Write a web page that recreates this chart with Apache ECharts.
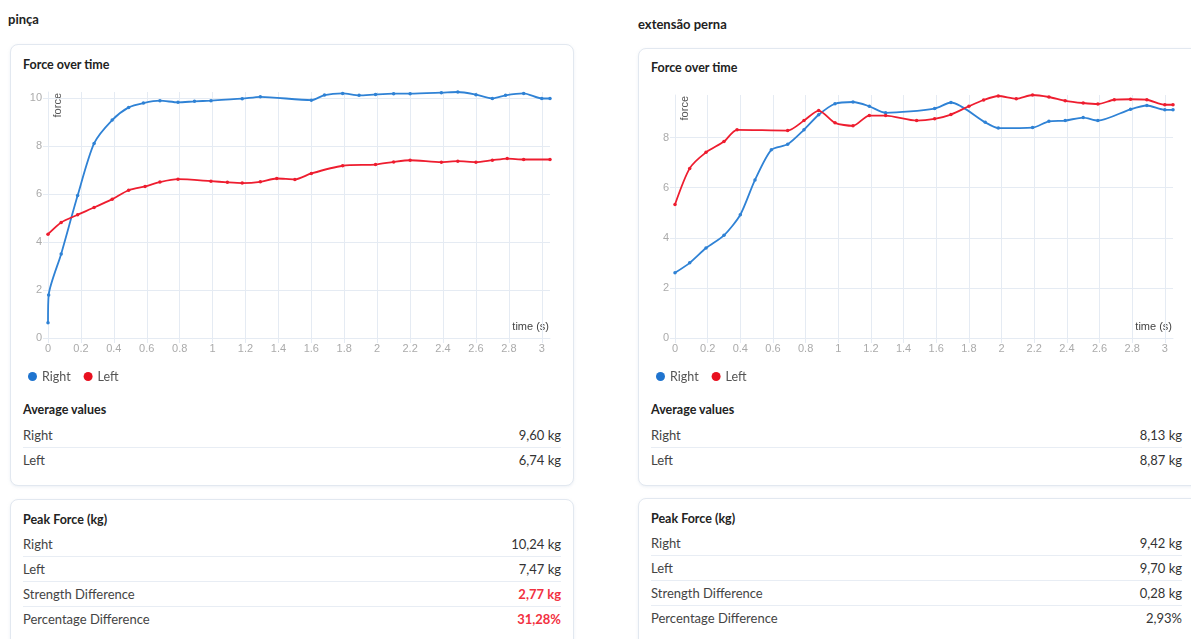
<!DOCTYPE html>
<html>
<head>
<meta charset="utf-8">
<script src="https://cdn.jsdelivr.net/npm/echarts@6/dist/echarts.min.js"></script>
<style>
  html, body { margin: 0; padding: 0; background: #fff; }
  body { width: 1191px; height: 639px; overflow: hidden; position: relative; font-family: 'Lato', 'Noto Sans', sans-serif; color: #333; }
  .ttl { position: absolute; font-size: 13px; font-weight: 700; color: #222; line-height: 16px; }
  .card { position: absolute; border: 1px solid #e2e8f0; border-radius: 8px; box-shadow: 0 1px 3px rgba(180,195,215,0.25); background: #fff; box-sizing: border-box; }
  .h { position: absolute; font-size: 12.5px; font-weight: 700; color: #222; line-height: 16px; }
  .rows { position: absolute; }
  .row { height: 25px; line-height: 25px; display: flex; justify-content: space-between; font-size: 13px; color: #444; border-bottom: 1px solid #e8edf4; box-sizing: border-box; }
  .row:last-child { border-bottom: none; }
  .row .v { color: #333; }
  .row .v.red { color: #f23040; font-weight: 700; }
  .chart { position: absolute; }
</style>
</head>
<body>

<div class="ttl" style="left:8px;top:11px">pinça</div>
<div class="card" style="left:10px;top:44px;width:564px;height:442px"></div>
<div class="h" style="left:23px;top:57px">Force over time</div>
<div id="chartPinca" class="chart" style="left:0;top:80px;width:600px;height:310px"></div>
<div class="h" style="left:23px;top:402px">Average values</div>
<div class="rows" style="left:23px;top:423px;width:538px" id="avgPinca"></div>
<div class="card" style="left:10px;top:499px;width:564px;height:160px"></div>
<div class="h" style="left:23px;top:512px">Peak Force (kg)</div>
<div class="rows" style="left:23px;top:532px;width:538px" id="peakPinca"></div>

<div class="ttl" style="left:638px;top:16px">extensão perna</div>
<div class="card" style="left:638px;top:48px;width:580px;height:438px"></div>
<div class="h" style="left:651px;top:60px">Force over time</div>
<div id="chartPerna" class="chart" style="left:620px;top:80px;width:571px;height:310px"></div>
<div class="h" style="left:651px;top:402px">Average values</div>
<div class="rows" style="left:651px;top:423px;width:531px" id="avgPerna"></div>
<div class="card" style="left:638px;top:498px;width:580px;height:160px"></div>
<div class="h" style="left:651px;top:511px">Peak Force (kg)</div>
<div class="rows" style="left:651px;top:531px;width:531px" id="peakPerna"></div>

<script>
// ---- pinça: force (kg) sampled over time (s) ----
const pincaRightTime  = [0.00, 0.004, 0.08, 0.18, 0.28, 0.39, 0.49, 0.58, 0.68, 0.79, 0.89, 0.99, 1.18, 1.29, 1.60, 1.68, 1.79, 1.89, 1.99, 2.10, 2.20, 2.39, 2.49, 2.60, 2.70, 2.78, 2.89, 3.00, 3.05];
const pincaRightForce = [0.64, 1.79, 3.50, 5.93, 8.10, 9.07, 9.60, 9.78, 9.88, 9.81, 9.85, 9.88, 9.96, 10.04, 9.90, 10.11, 10.18, 10.10, 10.14, 10.17, 10.17, 10.21, 10.24, 10.13, 9.97, 10.10, 10.18, 9.97, 9.97];
const pincaLeftTime   = [0.00, 0.08, 0.18, 0.28, 0.39, 0.49, 0.59, 0.68, 0.79, 0.99, 1.09, 1.18, 1.29, 1.39, 1.50, 1.60, 1.79, 1.99, 2.10, 2.20, 2.39, 2.49, 2.60, 2.70, 2.79, 2.89, 3.05];
const pincaLeftForce  = [4.32, 4.81, 5.13, 5.43, 5.78, 6.15, 6.31, 6.49, 6.61, 6.53, 6.48, 6.45, 6.50, 6.64, 6.60, 6.85, 7.17, 7.22, 7.33, 7.40, 7.32, 7.36, 7.32, 7.40, 7.47, 7.43, 7.43];

// ---- extensão perna ----
const pernaRightTime  = [0.00, 0.09, 0.19, 0.30, 0.40, 0.49, 0.59, 0.69, 0.79, 0.88, 0.98, 1.09, 1.19, 1.29, 1.59, 1.69, 1.90, 1.98, 2.19, 2.29, 2.39, 2.50, 2.59, 2.79, 2.89, 3.00, 3.05];
const pernaRightForce = [2.60, 3.00, 3.59, 4.10, 4.92, 6.31, 7.51, 7.73, 8.31, 8.91, 9.35, 9.42, 9.25, 8.99, 9.16, 9.40, 8.61, 8.38, 8.40, 8.65, 8.68, 8.80, 8.68, 9.13, 9.28, 9.11, 9.11];
const pernaLeftTime   = [0.00, 0.09, 0.19, 0.30, 0.38, 0.69, 0.79, 0.88, 0.98, 1.09, 1.19, 1.29, 1.48, 1.59, 1.69, 1.80, 1.89, 1.98, 2.09, 2.19, 2.29, 2.39, 2.50, 2.59, 2.69, 2.79, 2.89, 3.00, 3.05];
const pernaLeftForce  = [5.33, 6.77, 7.41, 7.84, 8.31, 8.28, 8.68, 9.08, 8.59, 8.47, 8.88, 8.88, 8.68, 8.75, 8.92, 9.25, 9.50, 9.66, 9.55, 9.70, 9.62, 9.47, 9.38, 9.34, 9.51, 9.53, 9.51, 9.31, 9.31];

// ---- summary tables ----
const sideLabels = ['Right', 'Left'];
const pincaAverage = ['9,60 kg', '6,74 kg'];
const pernaAverage = ['8,13 kg', '8,87 kg'];
const peakLabels = ['Right', 'Left', 'Strength Difference', 'Percentage Difference'];
const pincaPeak = ['10,24 kg', '7,47 kg', '2,77 kg', '31,28%'];
const pernaPeak = ['9,42 kg', '9,70 kg', '0,28 kg', '2,93%'];
const pincaHighlight = [false, false, true, true];
const pernaHighlight = [false, false, false, false];

const BLUE = '#2f82d5';
const RED = '#ee1d2f';
const GRID = '#e5ebf3';

function fillRows(id, labels, values, highlight) {
  const box = document.getElementById(id);
  labels.forEach((lab, i) => {
    const r = document.createElement('div');
    r.className = 'row';
    const a = document.createElement('span'); a.textContent = lab;
    const b = document.createElement('span'); b.className = 'v' + (highlight && highlight[i] ? ' red' : ''); b.textContent = values[i];
    r.appendChild(a); r.appendChild(b); box.appendChild(r);
  });
}
fillRows('avgPinca', sideLabels, pincaAverage);
fillRows('peakPinca', peakLabels, pincaPeak, pincaHighlight);
fillRows('avgPerna', sideLabels, pernaAverage);
fillRows('peakPerna', peakLabels, pernaPeak, pernaHighlight);

function pairs(t, v) { return t.map((x, i) => [x, v[i]]); }

function makeChart(el, g, legendLeft, rT, rF, lT, lF) {
  const chart = echarts.init(document.getElementById(el), null, { renderer: 'canvas' });
  const axisCommon = {
    type: 'value', min: 0, max: 'dataMax',
    axisLine: { show: true, lineStyle: { color: GRID, width: 1 } },
    axisTick: { show: true, length: 5, lineStyle: { color: GRID } },
    splitLine: { show: true, showMaxLine: false, lineStyle: { color: GRID, width: 1 } },
    axisLabel: { color: '#ababab', fontSize: 11, fontFamily: 'Liberation Sans, Arial, sans-serif', showMaxLabel: false }
  };
  const lineSeries = (name, data, color) => ({
    name, type: 'line', data, smooth: 0.25,
    symbol: 'circle', symbolSize: 3.5, showSymbol: true,
    lineStyle: { color, width: 1.8 }, itemStyle: { color },
    animation: false
  });
  chart.setOption({
    animation: false,
    grid: { left: g.left, top: g.top, width: g.width, height: g.height },
    xAxis: Object.assign({}, axisCommon, { interval: 0.2, axisLabel: Object.assign({}, axisCommon.axisLabel, { margin: 5 }) }),
    yAxis: Object.assign({}, axisCommon, { interval: 2, axisLabel: Object.assign({}, axisCommon.axisLabel, { margin: 6 }) }),
    legend: {
      left: legendLeft, top: 285, icon: 'circle', itemWidth: 9, itemHeight: 9, itemGap: 13,
      textStyle: { color: '#555', fontSize: 12.5, fontFamily: 'Lato, sans-serif' },
      data: [{ name: 'Right', itemStyle: { color: '#1f74cf' } }, { name: 'Left', itemStyle: { color: '#e8101f' } }]
    },
    graphic: [
      { type: 'text', x: g.left + 4, y: g.top + 1, rotation: Math.PI / 2,
        style: { text: 'force', fill: '#555', font: '11px "Liberation Sans", Arial, sans-serif', textAlign: 'right', textVerticalAlign: 'top' } },
      { type: 'text', x: g.left + g.width - 1, y: g.top + g.height - 11,
        style: { text: 'time (s)', fill: '#444', font: '11px "Liberation Sans", Arial, sans-serif', textAlign: 'right', textVerticalAlign: 'middle' } }
    ],
    series: [ lineSeries('Right', pairs(rT, rF), BLUE), lineSeries('Left', pairs(lT, lF), RED) ]
  });
  return chart;
}

makeChart('chartPinca', { left: 48, top: 12, width: 502, height: 246 }, 23,
  pincaRightTime, pincaRightForce, pincaLeftTime, pincaLeftForce);
makeChart('chartPerna', { left: 55, top: 15, width: 498, height: 243 }, 31,
  pernaRightTime, pernaRightForce, pernaLeftTime, pernaLeftForce);
</script>
</body>
</html>
